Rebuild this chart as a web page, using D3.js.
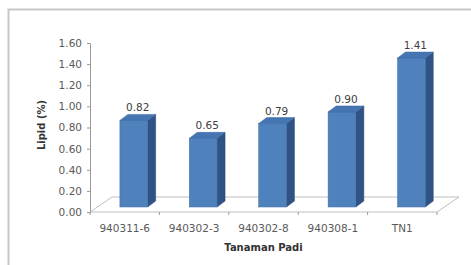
<!DOCTYPE html>
<html>
<head>
<meta charset="utf-8">
<script src="https://cdn.jsdelivr.net/npm/d3@7"></script>
<style>
  html, body { margin: 0; padding: 0; background: #fff; }
  svg { display: block; }
</style>
</head>
<body>
<script>
const categories = ["940311-6", "940302-3", "940302-8", "940308-1", "TN1"];
const values = [0.82, 0.65, 0.79, 0.90, 1.41];
const yTicks = [0, 0.2, 0.4, 0.6, 0.8, 1.0, 1.2, 1.4, 1.6];
const yTitle = "Lipid (%)";
const xTitle = "Tanaman Padi";

const W = 471, H = 265;
const svg = d3.select("body").append("svg").attr("width", W).attr("height", H);
const font = "DejaVu Sans, Verdana, sans-serif";

// outer frame (left and top visible)
svg.append("path").attr("d", `M8.5,${H} L8.5,9.5 L${W},9.5`)
  .attr("fill", "none").attr("stroke", "#c8c8c8").attr("stroke-width", 2);

const x = d3.scaleBand().domain(categories).range([90, 437]).padding(0);
const y = d3.scaleLinear().domain([0, 1.6]).range([212, 43]);

const floorDx = 22, floorDy = -15;
const shiftX = 7, shiftY = -5;      // bar position in depth
const depthX = 8, depthY = -6;      // bar thickness

// floor
const y0 = y(0), xl = x.range()[0], xr = x.range()[1];
svg.append("polygon")
  .attr("points", [[xl, y0], [xr, y0], [xr + floorDx, y0 + floorDy], [xl + floorDx, y0 + floorDy]].map(p => p.join(",")).join(" "))
  .attr("fill", "#fff").attr("stroke", "#bfbfbf").attr("stroke-width", 1);

// x ticks at band boundaries
const bounds = categories.map(c => x(c)).concat([xr]);
svg.append("g").selectAll("line").data(bounds).join("line")
  .attr("x1", d => d).attr("x2", d => d)
  .attr("y1", y0).attr("y2", y0 + 3)
  .attr("stroke", "#9a9a9a").attr("stroke-width", 1);

// y axis
const yAxis = svg.append("g").attr("transform", "translate(90,0)")
  .call(d3.axisLeft(y).tickValues(yTicks).tickFormat(d3.format(".2f")).tickSize(3).tickSizeOuter(0).tickPadding(5));
yAxis.select(".domain").attr("stroke", "#9a9a9a");
yAxis.selectAll(".tick line").attr("stroke", "#9a9a9a");
yAxis.selectAll(".tick text").attr("fill", "#595959").style("font-family", font).style("font-size", "10.5px");

// bars
const bw = x.bandwidth() * 0.4;
const data = categories.map((c, i) => ({ c, v: values[i] }));
const g = svg.append("g");
data.forEach(d => {
  const bx = x(d.c) + x.bandwidth() * 0.33 + shiftX;
  const top = y(d.v) + shiftY;
  const bot = y(0) + shiftY;
  // side
  g.append("polygon")
    .attr("points", [[bx + bw, top], [bx + bw + depthX, top + depthY], [bx + bw + depthX, bot + depthY], [bx + bw, bot]].map(p => p.join(",")).join(" "))
    .attr("fill", "#2f5384").attr("stroke", "#2a4a76").attr("stroke-width", 0.5);
  // front
  g.append("rect").attr("x", bx).attr("y", top).attr("width", bw).attr("height", bot - top)
    .attr("fill", "#4f81bd").attr("stroke", "#3f6ea8").attr("stroke-width", 0.5);
  // top
  g.append("polygon")
    .attr("points", [[bx, top], [bx + bw, top], [bx + bw + depthX, top + depthY], [bx + depthX, top + depthY]].map(p => p.join(",")).join(" "))
    .attr("fill", "#4576b3").attr("stroke", "#3a67a0").attr("stroke-width", 0.5);
  // value label
  g.append("text").attr("x", bx + bw / 2 + depthX / 2).attr("y", top + depthY - 3)
    .attr("text-anchor", "middle").attr("fill", "#404040")
    .style("font-family", font).style("font-size", "10.5px")
    .text(d3.format(".2f")(d.v));
});

// category labels
svg.append("g").selectAll("text").data(categories).join("text")
  .attr("x", d => x(d) + x.bandwidth() / 2).attr("y", 232)
  .attr("text-anchor", "middle").attr("fill", "#595959")
  .style("font-family", font).style("font-size", "10.5px")
  .text(d => d);

// axis titles
svg.append("text").attr("x", (xl + xr) / 2).attr("y", 251)
  .attr("text-anchor", "middle").attr("fill", "#333")
  .style("font-family", font).style("font-size", "10px").style("font-weight", "bold")
  .text(xTitle);
svg.append("text").attr("transform", `translate(45,125) rotate(-90)`)
  .attr("text-anchor", "middle").attr("fill", "#333")
  .style("font-family", font).style("font-size", "10px").style("font-weight", "bold")
  .text(yTitle);
</script>
</body>
</html>
